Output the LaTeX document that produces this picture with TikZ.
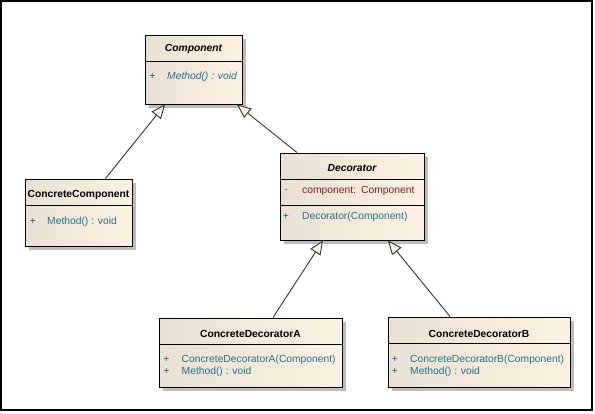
\documentclass[tikz,border=0pt]{standalone}
\usepackage{fontspec}
\setmainfont{Liberation Sans}
\usetikzlibrary{arrows.meta,shadows}
\definecolor{boxleft}{HTML}{E9E1D3}
\definecolor{boxright}{HTML}{FCF2E4}
\definecolor{memblue}{HTML}{23708E}
\definecolor{plusteal}{HTML}{17606E}
\definecolor{fieldred}{HTML}{8A1C1C}
\definecolor{minusred}{HTML}{C0392B}
\definecolor{shadowgray}{HTML}{BDBDBD}
\definecolor{linegray}{HTML}{333333}
\tikzset{
  classbox/.style={draw=black, line width=1pt, left color=boxleft, right color=boxright,
    drop shadow={shadow xshift=3.5pt, shadow yshift=-3.5pt, fill=shadowgray, opacity=1}, inner sep=0pt},
  classname/.style={font=\fontsize{10.3}{12}\selectfont\bfseries, inner sep=0pt},
  vis/.style={font=\fontsize{10.3}{12}\selectfont, text=plusteal, inner sep=0pt},
  member/.style={font=\fontsize{10.3}{12}\selectfont, text=memblue, anchor=west, inner sep=0pt},
  sepline/.style={draw=black, line width=1pt},
  inherit/.style={draw=linegray, line width=0.9pt, -{Triangle[length=14pt,width=12pt,fill=boxright]}}
}
\begin{document}
\begin{tikzpicture}[x=1pt,y=-1pt]
            \useasboundingbox (0,0) rectangle (595,413);
            \draw[line width=1.3pt] (1,1) rectangle (592,410);

            % classes
            \node[classbox, minimum width=97pt, minimum height=69pt] (comp) at (193.5,69.5) {};
            \node[classbox, minimum width=107pt, minimum height=67pt] (cc) at (78.5,212.5) {};
            \node[classbox, minimum width=144pt, minimum height=87pt] (dec) at (352,196.5) {};
            \node[classbox, minimum width=183pt, minimum height=69pt] (cda) at (250.5,352.5) {};
            \node[classbox, minimum width=182pt, minimum height=70pt] (cdb) at (479,352) {};

            \draw[sepline] ([yshift=-27pt]comp.north west) -- ([yshift=-27pt]comp.north east);
            \draw[sepline] ([yshift=-27pt]cc.north west) -- ([yshift=-27pt]cc.north east);
            \draw[sepline] ([yshift=-27pt]dec.north west) -- ([yshift=-27pt]dec.north east);
            \draw[sepline] ([yshift=-53pt]dec.north west) -- ([yshift=-53pt]dec.north east);
            \draw[sepline] ([yshift=-27pt]cda.north west) -- ([yshift=-27pt]cda.north east);
            \draw[sepline] ([yshift=-27pt]cdb.north west) -- ([yshift=-27pt]cdb.north east);

            % names and members
            \node[classname, font=\fontsize{10.3}{12}\selectfont\bfseries\itshape] (compT) at (193.5,48.5) {Component};
            \node[vis] (compV) at (152.5,76.5) {+};
            \node[member, font=\fontsize{10.3}{12}\selectfont\itshape] (compM) at (167,76.5) {Method() : void};

            \node[classname] (ccT) at (78.5,195) {ConcreteComponent};
            \node[vis] (ccV) at (33,221.5) {+};
            \node[member] (ccM) at (47,221.5) {Method() : void};

            \node[classname, font=\fontsize{10.3}{12}\selectfont\bfseries\itshape] (decT) at (352,168) {Decorator};
            \node[vis, text=minusred] (decV1) at (286,190.5) {-};
            \node[member, text=fieldred] (decF) at (302,190.5) {component:\enspace Component};
            \node[vis] (decV2) at (286,216.5) {+};
            \node[member] (decM) at (302,216.5) {Decorator(Component)};

            \node[classname] (cdaT) at (250.5,334) {ConcreteDecoratorA};
            \node[vis] (cdaV1) at (166.5,359.5) {+};
            \node[member] (cdaC) at (181.5,359.5) {ConcreteDecoratorA(Component)};
            \node[vis] (cdaV2) at (166.5,372) {+};
            \node[member] (cdaM) at (181.5,372) {Method() : void};

            \node[classname] (cdbT) at (479,334) {ConcreteDecoratorB};
            \node[vis] (cdbV1) at (395,359.5) {+};
            \node[member] (cdbC) at (410,359.5) {ConcreteDecoratorB(Component)};
            \node[vis] (cdbV2) at (395,372) {+};
            \node[member] (cdbM) at (410,372) {Method() : void};

            % generalisations
            \draw[inherit] ([xshift=27pt]cc.north) to ([xshift=-28.5pt]comp.south);
            \draw[inherit] ([xshift=-55pt]dec.north) to ([xshift=43.5pt]comp.south);
            \draw[inherit] ([xshift=22.5pt]cda.north) to ([xshift=-29pt]dec.south);
            \draw[inherit] ([xshift=-29pt]cdb.north) to ([xshift=36pt]dec.south);
\end{tikzpicture}
\end{document}
